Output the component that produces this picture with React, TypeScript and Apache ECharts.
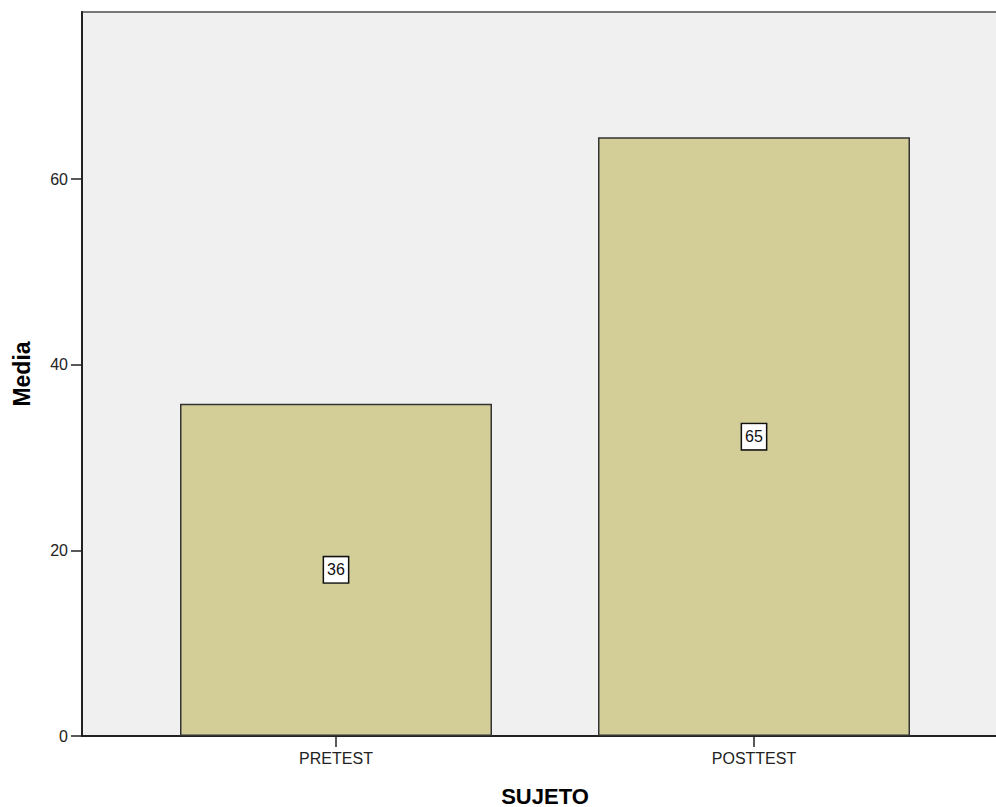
import React, { useEffect, useRef } from "react";
import * as echarts from "echarts";

const categories = ["PRETEST", "POSTTEST"];
const means = [35.8, 64.5];
const yTicks = [0, 20, 40, 60];
const yMax = 78;

export default function App() {
  const ref = useRef<HTMLDivElement>(null);
  useEffect(() => {
    if (!ref.current) return;
    const chart = echarts.init(ref.current, null, { renderer: "svg" });
    const pad = 254 / 418;
    const positions = categories.map((_, i) => i + 1);
    chart.setOption({
      animation: false,
      textStyle: { fontFamily: "Liberation Sans, Arial, sans-serif" },
      grid: {
        left: 82,
        top: 12,
        width: 926,
        bottom: 71,
        outerBoundsMode: "none",
        containLabel: false,
        show: true,
        backgroundColor: "#F0F0F0",
        borderColor: "#777777",
        borderWidth: 2,
      },
      xAxis: {
        type: "value",
        min: 1 - pad,
        max: categories.length + pad,
        name: "SUJETO",
        nameLocation: "middle",
        nameGap: 49,
        nameTextStyle: { fontSize: 22, lineHeight: 22, fontWeight: "bold", color: "#000" },
        axisLine: { show: true, lineStyle: { color: "#222", width: 2 } },
        axisTick: { show: true, customValues: positions, length: 11, lineStyle: { color: "#222", width: 1.5 } },
        axisLabel: {
          customValues: positions,
          formatter: (v: number) => categories[Math.round(v) - 1] ?? "",
          fontSize: 16,
          color: "#222",
          margin: 14,
        },
        splitLine: { show: false },
      },
      yAxis: {
        type: "value",
        min: 0,
        max: yMax,
        interval: 20,
        name: "Media",
        nameLocation: "middle",
        nameGap: 49,
        nameTextStyle: { fontSize: 23, fontWeight: "bold", color: "#000" },
        axisLine: { show: true, lineStyle: { color: "#222", width: 2 } },
        axisTick: { show: true, customValues: yTicks, length: 11, lineStyle: { color: "#222", width: 1.5 } },
        axisLabel: {
          customValues: yTicks,
          fontSize: 16,
          color: "#222",
          margin: 14,
        },
        splitLine: { show: false },
      },
      series: [
        {
          type: "bar",
          data: means.map((m, i) => [positions[i], m]),
          barWidth: 312,
          itemStyle: { color: "#D3CE98", borderColor: "#333333", borderWidth: 1.5 },
          label: {
            show: true,
            position: "inside",
            formatter: (p: any) => String(Math.round(p.value[1])),
            color: "#111",
            fontSize: 16,
            backgroundColor: "#FFFFFF",
            borderColor: "#111",
            borderWidth: 1.5,
            padding: [5, 3, 4, 3],
          },
        },
      ],
    });
    return () => chart.dispose();
  }, []);
  return (
    <div
      ref={ref}
      style={{ position: "absolute", left: 0, top: 0, width: 996, height: 807 }}
    />
  );
}
